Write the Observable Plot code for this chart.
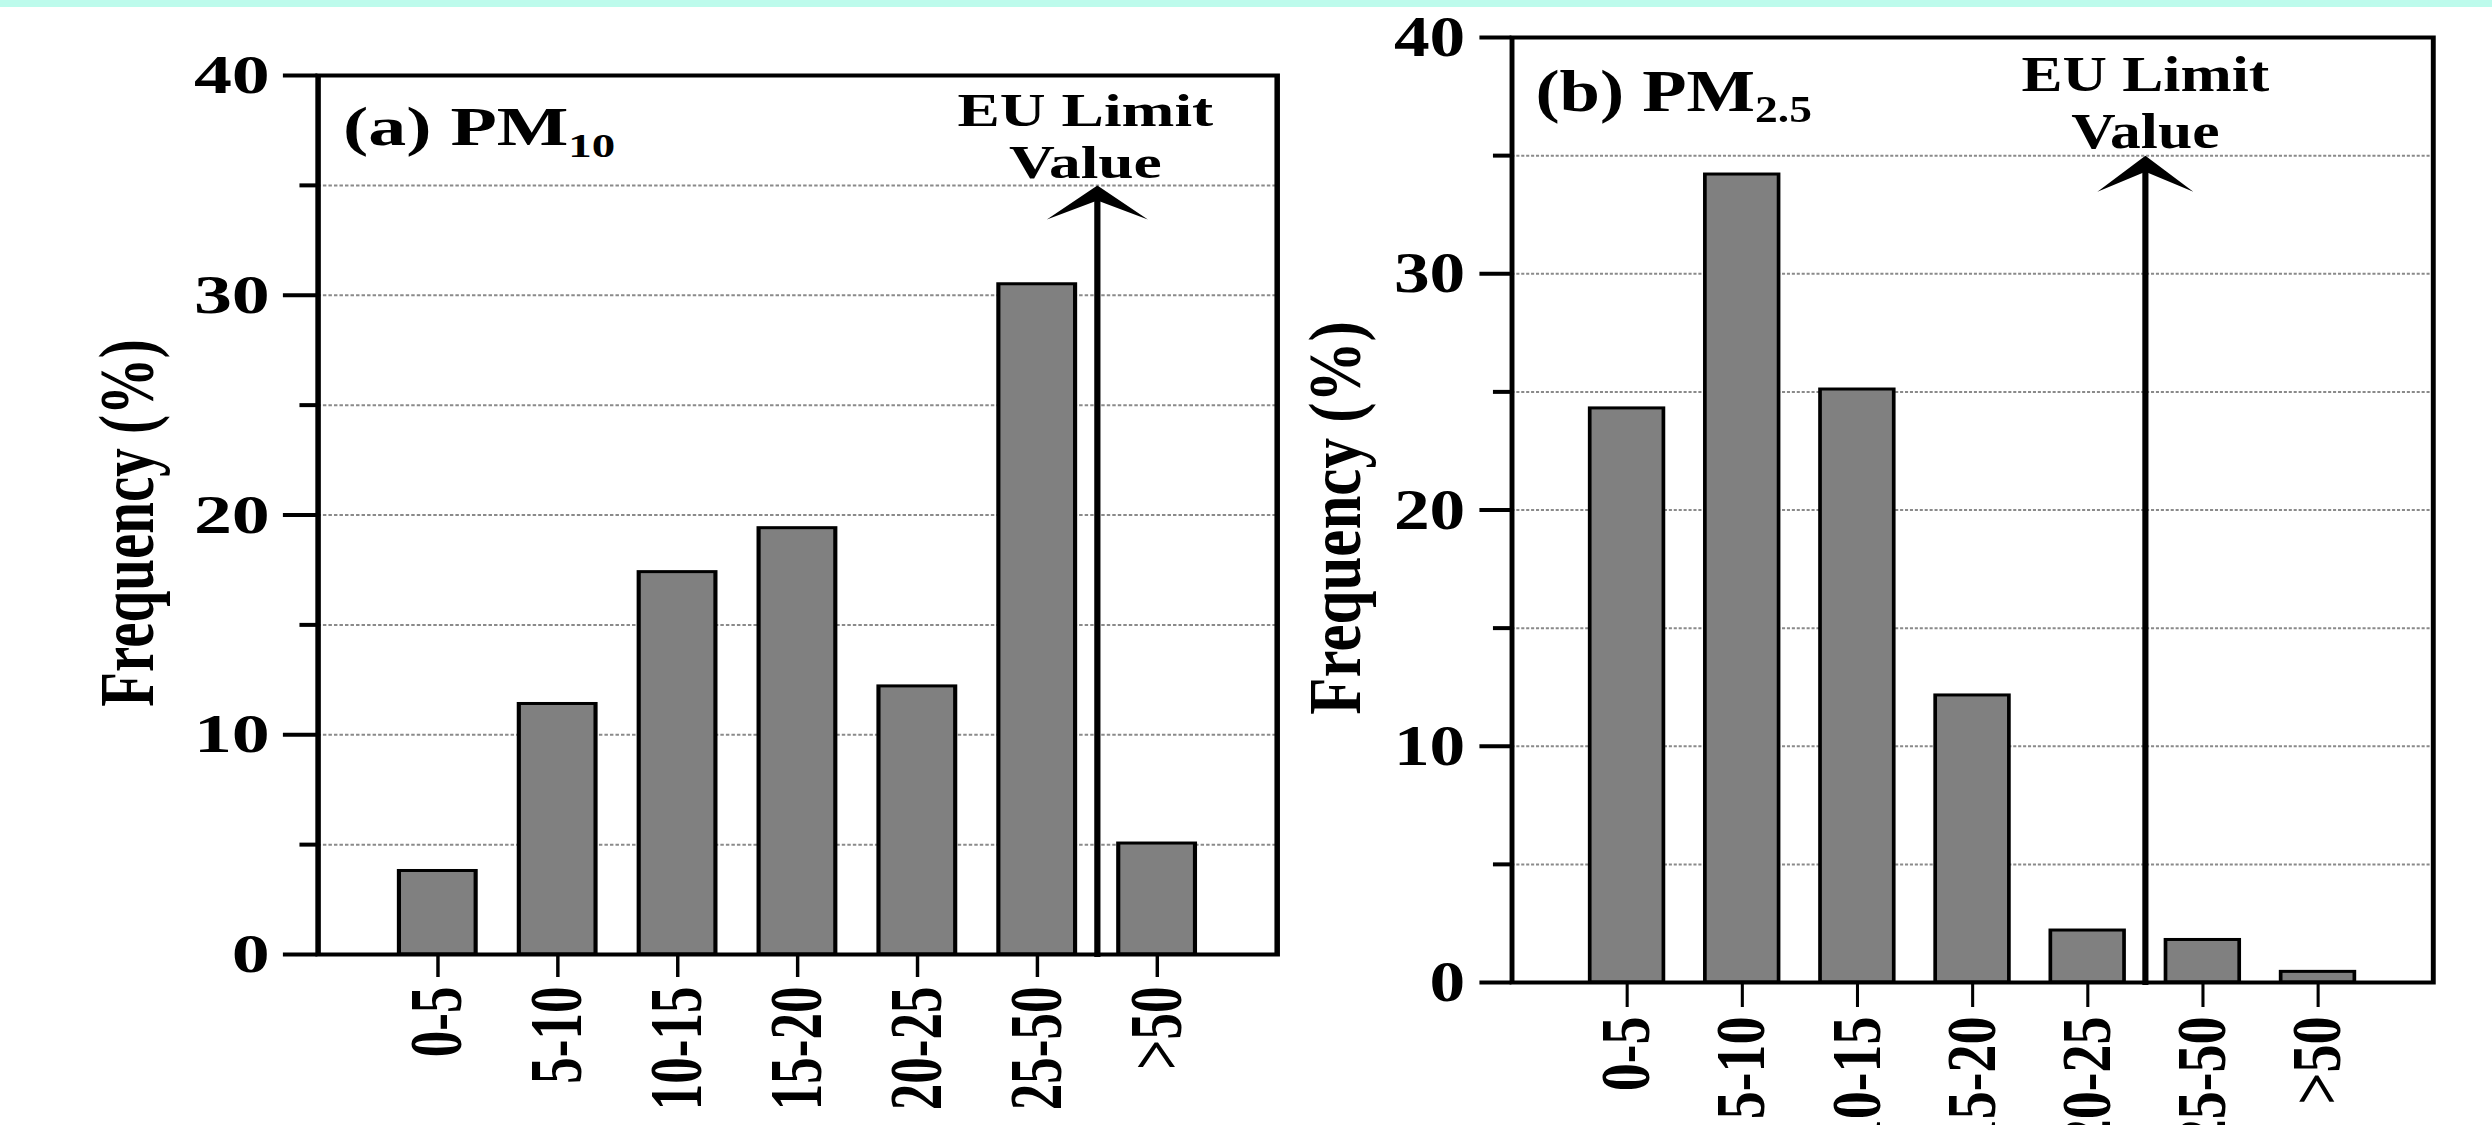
<!DOCTYPE html>
<html><head><meta charset="utf-8">
<script src="https://cdn.jsdelivr.net/npm/d3@7"></script>
<script src="https://cdn.jsdelivr.net/npm/@observablehq/plot@0.6"></script>
<style>
html,body{margin:0;padding:0;background:#fff;overflow:hidden;width:2492px;height:1125px;}
#band{position:absolute;left:0;top:0;width:2492px;height:7px;background:#bdfbec;z-index:5;}
.panel{position:absolute;top:0;transform-origin:0 0;}
</style></head><body>
<div id="band"></div>
<div id="pa" class="panel"></div>
<div id="pb" class="panel"></div>
<script>
// ---- data ----
const categories = ["0-5", "5-10", "10-15", "15-20", "20-25", "25-50", ">50"];
const pm10Frequency = [3.8, 11.4, 17.4, 19.4, 12.2, 30.5, 5.05];
const pm25Frequency = [24.3, 34.2, 25.1, 12.15, 2.2, 1.8, 0.45];
const yMajorTicks = [0, 10, 20, 30, 40];
const yMinorTicks = [5, 15, 25, 35];
const gridTicks = [5, 10, 15, 20, 25, 30, 35];
const yLabel = "Frequency (%)";
const euLabel = "EU Limit\nValue";
const euLimitPM10 = 6.5;  // boundary between "25-50" and ">50"
const euLimitPM25 = 5.5;  // boundary between "20-25" and "25-50"
const euArrowTop = 35;
const panelTitles = ["(a) PM", "(b) PM"];
const panelSubscripts = ["10", "2.5"];

const positions = categories.map((c, i) => i + 1);

function arrowHead(hw, depth, notch) {
  return {
    draw(ctx) {
      ctx.moveTo(0, 0);
      ctx.lineTo(hw, depth);
      ctx.lineTo(0, notch);
      ctx.lineTo(-hw, depth);
      ctx.closePath();
    }
  };
}

function makePanel(c) {
  const rows = c.values.map((v, i) => ({pos: positions[i], label: categories[i], value: v}));
  const barHalf = 0.32;
  const svg = Plot.plot({
    width: c.width, height: 1125,
    marginLeft: c.marginLeft, marginRight: c.marginRight,
    marginTop: c.marginTop, marginBottom: 1125 - c.marginTop - c.plotHeight,
    x: {domain: [0, 8], label: null},
    y: {domain: [0, 40], label: null},
    style: {fontFamily: "Liberation Serif", fontWeight: "bold", background: "transparent", overflow: "visible", maxWidth: "none", color: "black"},
    marks: [
      Plot.gridY({ticks: gridTicks, stroke: "#8a8a8a", strokeOpacity: 1, strokeWidth: 2, strokeDasharray: "2.5,1.5"}),
      Plot.rectY(rows, {x1: d => d.pos - barHalf, x2: d => d.pos + barHalf, y: "value", fill: "#808080", stroke: "black", strokeWidth: 3}),
      Plot.ruleX([c.eu], {x: d => d, y1: () => euArrowTop, y2: () => 0, stroke: "black", strokeWidth: c.shaft, insetTop: 12, insetBottom: -3}),
      Plot.dot([c.eu], {x: d => d, y: () => euArrowTop, symbol: arrowHead(c.hw, c.depth, c.notch), r: 10, fill: "black"}),
      Plot.frame({stroke: "black", strokeWidth: 4}),
      Plot.axisY({ticks: yMajorTicks, tickSize: c.yTick, tickPadding: c.yPad, fontSize: c.yFont, fontWeight: "bold", strokeWidth: 4, label: null, tickFormat: d => String(d)}),
      Plot.axisY({ticks: yMinorTicks, tickSize: c.yMinor, strokeWidth: 4, label: null, tickFormat: () => ""}),
      Plot.axisX({ticks: positions, tickFormat: i => categories[i - 1], tickRotate: -90, tickSize: c.xTick, tickPadding: c.xPad, fontSize: c.xFont, fontWeight: "bold", strokeWidth: 2.5, label: null}),
      Plot.text([yLabel], {text: d => d, frameAnchor: "left", textAnchor: "middle", rotate: -90, dx: c.labelDx, dy: c.labelDy, fontSize: c.labelFont, fontWeight: "bold"}),
      Plot.text([c.title], {text: d => d, frameAnchor: "top-left", textAnchor: "start", dx: c.titleDx, dy: c.titleDy, fontSize: c.titleFont, fontWeight: "bold"}),
      Plot.text([euLabel], {text: d => d, x: () => c.eu, y: () => euArrowTop, textAnchor: "middle", lineAnchor: "bottom", lineHeight: c.euLine, dx: c.euDx, dy: c.euDy, fontSize: c.euFont, fontWeight: "bold"})
    ]
  });
  svg.querySelectorAll("text").forEach(t => {
    if (t.textContent === c.title) {
      const ts = document.createElementNS("http://www.w3.org/2000/svg", "tspan");
      ts.setAttribute("dy", c.subShift);
      ts.setAttribute("font-size", c.subFont);
      ts.textContent = c.sub;
      t.appendChild(ts);
    }
  });
  const host = document.getElementById(c.id);
  host.style.left = c.left + "px";
  host.style.transform = `scaleX(${c.k})`;
  host.appendChild(svg);
}

makePanel({
  id: "pa", left: 0, k: 1.38, values: pm10Frequency, eu: euLimitPM10,
  title: panelTitles[0], sub: panelSubscripts[0],
  width: 935, marginLeft: 230, marginRight: 10, marginTop: 75, plotHeight: 879,
  yTick: 25, yMinor: 13, yPad: 10, yFont: 55,
  xTick: 23, xPad: 9, xFont: 53,
  labelDx: -138, labelDy: 8, labelFont: 57,
  titleDx: 18, titleDy: 30, titleFont: 55, subShift: 12, subFont: 34,
  euDx: -8.7, euDy: -7, euFont: 46, euLine: 1.13,
  shaft: 4.5, hw: 36.6, depth: 34, notch: 15
});
makePanel({
  id: "pb", left: 1290, k: 1.23, values: pm25Frequency, eu: euLimitPM25,
  title: panelTitles[1], sub: panelSubscripts[1],
  width: 978, marginLeft: 180, marginRight: 49, marginTop: 37, plotHeight: 945,
  yTick: 26, yMinor: 15, yPad: 12, yFont: 58,
  xTick: 25, xPad: 9, xFont: 56,
  labelDx: -143, labelDy: 8, labelFont: 61,
  titleDx: 19, titleDy: 32, titleFont: 59, subShift: 11, subFont: 37,
  euDx: 0, euDy: -8, euFont: 50, euLine: 1.14,
  shaft: 5, hw: 39, depth: 36, notch: 16
});
</script>
</body></html>
